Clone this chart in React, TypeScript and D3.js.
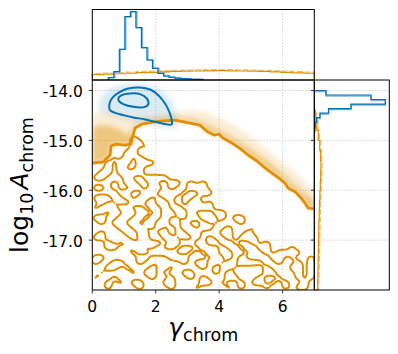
import React from 'react';
import * as d3 from 'd3';

const WIDTH = 398;
const HEIGHT = 354;
const BLUE = '#0173b2';
const ORANGE = '#de8f05';

const gammaTicks = [0, 2, 4, 6];
const logATicks = [-14, -15, -16, -17];

// marginal histograms (density, scaled to the panel)
const blueGammaStart = 0.505;
const blueGammaWidth = 0.174;
const blueGammaHist = [0.033, 0.118, 0.435, 0.898, 0.969, 0.742, 0.458, 0.284, 0.166, 0.095, 0.057, 0.038, 0.028, 0.021, 0.015, 0.011, 0.008];

const orangeGammaStart = 0;
const orangeGammaWidth = 0.35;
const orangeGammaHist = [0.075, 0.082, 0.089, 0.096, 0.104, 0.109, 0.115, 0.121, 0.125, 0.128, 0.130, 0.132, 0.130, 0.128, 0.125, 0.121, 0.115, 0.109, 0.102, 0.096];

const blueLogAStart = -14.0;
const blueLogAWidth = -0.0906;
const blueLogAHist = [0.158, 0.766, 0.96, 0.496, 0.193, 0.077, 0.031, 0.014, 0.007];

const orangeLogAStart = -18;
const orangeLogAWidth = 0.2;
const orangeLogAHist = [0.045, 0.049, 0.051, 0.054, 0.057, 0.059, 0.062, 0.066, 0.070, 0.076, 0.081, 0.086, 0.089, 0.084, 0.073, 0.054, 0.034, 0.014];

// blue 2d contours [gamma, log10 A]
const blueOuter = [
  [0.536, -14.36], [0.558, -14.228], [0.662, -14.128], [0.874, -14.028], [1.135, -13.96],
  [1.504, -13.94], [1.82, -13.98], [2.081, -14.094], [2.293, -14.26], [2.428, -14.428],
  [2.504, -14.594], [2.504, -14.68], [2.293, -14.674], [1.977, -14.628], [1.662, -14.58],
  [1.293, -14.54], [0.978, -14.494], [0.716, -14.448], [0.58, -14.408],
];
const blueInner = [
  [0.82, -14.16], [0.927, -14.094], [1.189, -14.06], [1.504, -14.074], [1.716, -14.16],
  [1.766, -14.274], [1.662, -14.328], [1.293, -14.328], [0.978, -14.274], [0.842, -14.214],
];
const blueCloud = [
  [0.18, -14.294], [0.306, -14.094], [0.558, -13.954], [1.031, -13.874], [1.662, -13.874],
  [2.071, -13.954], [2.397, -14.114], [2.617, -14.354], [2.712, -14.594], [2.65, -14.754],
  [2.293, -14.754], [1.82, -14.674], [1.189, -14.614], [0.621, -14.514], [0.243, -14.434],
];

// orange outer contour along the upper envelope
const orangeEdge = [
  [0.0, -15.454], [0.337, -15.434], [0.558, -15.294], [0.59, -15.114], [0.747, -15.074],
  [1.031, -15.094], [1.22, -15.074], [1.283, -14.894], [1.347, -14.754], [1.567, -14.674],
  [1.82, -14.644], [2.135, -14.614], [2.608, -14.594], [3.081, -14.654], [3.396, -14.694],
  [3.649, -14.834], [3.838, -14.894], [3.996, -14.874], [4.122, -14.954], [4.406, -15.054],
  [4.658, -15.16], [4.91, -15.294], [5.194, -15.414], [5.446, -15.554], [5.699, -15.674],
  [5.919, -15.774], [6.077, -15.86], [6.182, -15.96], [6.393, -16.028], [6.582, -16.154],
  [6.708, -16.26], [6.812, -16.36], [7.0, -16.374],
];
const orangeCloudTop = [
  [0.0, -14.494], [0.306, -14.394], [0.716, -14.434], [1.189, -14.534], [1.82, -14.514],
  [2.45, -14.454], [3.081, -14.394], [3.555, -14.434], [4.027, -14.554], [4.5, -14.714],
  [4.973, -14.914], [5.446, -15.154], [5.919, -15.394], [6.392, -15.634], [6.708, -15.834],
  [7.0, -16.034],
];
const orangeDenseTop = [
  [0.0, -14.754], [0.243, -14.694], [0.558, -14.714], [0.874, -14.794], [1.126, -14.894],
  [1.347, -14.674], [1.82, -14.574], [2.608, -14.534], [3.239, -14.574], [3.712, -14.714],
  [4.185, -14.854], [4.658, -15.034], [5.131, -15.234], [5.604, -15.454], [6.077, -15.714],
  [6.55, -15.994], [7.0, -16.194],
];

// orange 2d histogram below the envelope: 0.2 in gamma x 0.1 in log10 A, from -14.9 down
const noiseTop = -14.9;
const noiseRows = [
  '..... .x... ..... ..... ..... ..... .....',
  '..... .xx.. ..... ..... ..... ..... .....',
  '..... .x.o. ..... ..... ..... ..... .....',
  '..... xx... ..... ..... ..... ..... .....',
  '...o. x.x.. ..... ..... ..... ..... .....',
  '..x.x x.xxo ..... ..... ..... ..... .....',
  '..x.x ..x.. ..... ..... ..... ..... .....',
  '.xx.x xxx.. ..... ..... ..... ..... .....',
  'ox... x..xx xx... ..... ..... ..... .....',
  '...x. xx..x ..xx. x.x.. ..... ..... .....',
  'xx.x. .xo.x x.x.. xxx.. ..... ..... .....',
  '....x x..xx ....x ..xx. ..... ..... .....',
  'oxx.. x.xx. o..x. .x... ..... ..... .....',
  '.x.o. .xx.. xx.x. xx.o. ..... ..... .....',
  'x...x x..x. .x..o .xxx. ..... ..... .....',
  '..x.. xx..o .xx.. x...x x.... ..... .....',
  'xx..x x..x. .x.o. xx... x.xx. ..... .....',
  '.x.xx ..o.. xx..x ..x.o ...x. ..... .....',
  '....x x..o. x.x.x x.xx. .x... o.... .....',
  '.x... xx..x ..x.. xx... xx..x ..... .....',
  'xo... .x..x x..o. .x.x. .x.ox x.... .....',
  '..x.o ..o.. .x..x x..xx ..o.. x.o.. .....',
  'o.xx. o..o. x..x. .o... x..x. .xx.. .x...',
  '..... .x..x xxx.. x.x.. xx..o ..x.x x.x..',
  'xx... ..xx. ..xxx ...o. .x.x. ...xx .o..x',
  'x..xx ..x.. o...x .xx.. o..xx xo..x ..x.x',
  '..xx. x...x ..x.. ..x.x ..o.. ..x.. .xx.x',
  '.o... .x.xx .x..x x...x .x..x ..xx. ..x.x',
  'x..x. ....x ..o.. x.x.. .xx.. .x..o ..x.x',
  '..x.x .xx.. .xx.. ..xx. o..x. xx.x. x..x.',
  'x.x.. ..x.x ..x.x .x... .x.x. ..x.. x.xx.',
];
const noiseLevels: Record<string, number> = { '.': 1, o: 8.2, x: 9 };

const MAIN = { left: 92.3, right: 314.3, top: 80, bottom: 290 };
const TOP = { top: 9.5, bottom: 80 };
const RIGHT = { left: 314.3, right: 389.3 };

function stepPoints(start: number, width: number, vals: number[]) {
  const pts: [number, number][] = [[start, 0]];
  vals.forEach((v, i) => {
    pts.push([start + i * width, v]);
    pts.push([start + (i + 1) * width, v]);
  });
  pts.push([start + vals.length * width, 0]);
  return pts;
}

// bilinear resample of the coarse grid, then a light blur, for smoother contour lines
function resample(values: number[], w: number, h: number, k: number) {
  const fw = w * k;
  const fh = h * k;
  const out = new Float64Array(fw * fh);
  const at = (i: number, j: number) => values[Math.max(0, Math.min(h - 1, j)) * w + Math.max(0, Math.min(w - 1, i))];
  for (let fj = 0; fj < fh; fj++) {
    const v = (fj + 0.5) / k - 0.5;
    const j0 = Math.floor(v);
    const ty = v - j0;
    for (let fi = 0; fi < fw; fi++) {
      const u = (fi + 0.5) / k - 0.5;
      const i0 = Math.floor(u);
      const tx = u - i0;
      const a = at(i0, j0) * (1 - tx) + at(i0 + 1, j0) * tx;
      const b = at(i0, j0 + 1) * (1 - tx) + at(i0 + 1, j0 + 1) * tx;
      out[fj * fw + fi] = a * (1 - ty) + b * ty;
    }
  }
  d3.blur2({ data: out, width: fw, height: fh }, 1);
  return { data: Array.from(out), fw, fh };
}

export default function App() {
  const x = d3.scaleLinear().domain([0, 7]).range([MAIN.left, MAIN.right]);
  const y = d3.scaleLinear().domain([-18, -13.79]).range([MAIN.bottom, MAIN.top]);
  const yTop = d3.scaleLinear().domain([0, 1]).range([TOP.bottom, TOP.top]);
  const xRight = d3.scaleLinear().domain([0, 1.013]).range([RIGHT.left, RIGHT.right]);

  const xy = d3.line<number[]>().x(d => x(d[0])).y(d => y(d[1]));
  const closedSmooth = d3.line<number[]>().x(d => x(d[0])).y(d => y(d[1])).curve(d3.curveCatmullRomClosed);
  const topStep = d3.line<[number, number]>().x(d => x(d[0])).y(d => yTop(d[1]));
  const rightStep = d3.line<[number, number]>().x(d => xRight(d[1])).y(d => y(d[0]));

  const cloud = (top: number[][]) => xy([...top, ...orangeEdge.slice().reverse()]) + 'Z';

  // orange noise contours
  const rows = noiseRows.map(r => r.replace(/ /g, ''));
  const nx = rows[0].length;
  const ny = rows.length;
  const values = new Array((nx + 2) * (ny + 2)).fill(1);
  rows.forEach((r, j) => {
    for (let i = 0; i < nx; i++) values[(j + 1) * (nx + 2) + i + 1] = noiseLevels[r[i]] ?? 1;
  });
  const K = 3;
  const fine = resample(values, nx + 2, ny + 2, K);
  const noise = d3.contours().size([fine.fw, fine.fh]).thresholds([4.4])(fine.data);
  const proj = d3.geoTransform({
    point(px: number, py: number) {
      (this as any).stream.point(x((px / K - 1) * 0.2), y(noiseTop - (py / K - 1) * 0.1));
    },
  });
  const noisePath = d3.geoPath(proj);

  const mw = MAIN.right - MAIN.left;
  const mh = MAIN.bottom - MAIN.top;

  return (
    <svg width={WIDTH} height={HEIGHT} style={{ position: 'absolute', left: 0, top: 0, background: '#fff' }}
      fontFamily="DejaVu Sans">
      <defs>
        <clipPath id="main-clip"><rect x={MAIN.left} y={MAIN.top} width={mw} height={mh} /></clipPath>
        <filter id="haze" x="-20%" y="-20%" width="140%" height="140%">
          <feGaussianBlur stdDeviation="2.5" />
        </filter>
      </defs>
      <rect width={WIDTH} height={HEIGHT} fill="#fff" />

      {/* grids */}
      <g stroke="#c8c8c8" strokeWidth={0.8} strokeDasharray="1.5 1.5">
        {gammaTicks.slice(1).map(t => (
          <g key={t}>
            <line x1={x(t)} x2={x(t)} y1={TOP.top} y2={TOP.bottom} />
            <line x1={x(t)} x2={x(t)} y1={MAIN.top} y2={MAIN.bottom} />
          </g>
        ))}
        {logATicks.map(t => (
          <g key={t}>
            <line x1={MAIN.left} x2={MAIN.right} y1={y(t)} y2={y(t)} />
            <line x1={RIGHT.left} x2={RIGHT.right} y1={y(t)} y2={y(t)} />
          </g>
        ))}
      </g>

      {/* main panel */}
      <g clipPath="url(#main-clip)">
        <g filter="url(#haze)">
          <path d={xy(blueCloud) + 'Z'} fill={BLUE} fillOpacity={0.14} />
          <path d={cloud(orangeCloudTop)} fill={ORANGE} fillOpacity={0.16} />
          <path d={cloud(orangeDenseTop)} fill={ORANGE} fillOpacity={0.42} />
        </g>
        <g fill="none" stroke={ORANGE} strokeWidth={2} strokeLinejoin="round">
          {noise.map((c, i) => <path key={i} d={noisePath(c as any) || ''} />)}
        </g>
        <path d={xy(orangeEdge) || ''} fill="none" stroke={ORANGE} strokeWidth={2.8} strokeLinejoin="round" />
        <g fill="none" stroke={BLUE} strokeWidth={2}>
          <path d={closedSmooth(blueOuter) || ''} />
          <path d={closedSmooth(blueInner) || ''} />
        </g>
      </g>

      {/* top marginal */}
      <path d={topStep(stepPoints(orangeGammaStart, orangeGammaWidth, orangeGammaHist)) || ''}
        fill="none" stroke="#f0bd6a" strokeWidth={1.2} strokeDasharray="6 2" transform="translate(0,-1.2)" />
      <path d={topStep(stepPoints(orangeGammaStart, orangeGammaWidth, orangeGammaHist)) || ''}
        fill="none" stroke={ORANGE} strokeWidth={1.2} />
      <path d={topStep(stepPoints(blueGammaStart, blueGammaWidth, blueGammaHist)) || ''}
        fill="none" stroke="#7db4dc" strokeWidth={1.4} transform="translate(1,0)" />
      <path d={topStep(stepPoints(blueGammaStart, blueGammaWidth, blueGammaHist)) || ''}
        fill="none" stroke={BLUE} strokeWidth={1.2} />

      {/* right marginal */}
      <path d={rightStep(stepPoints(orangeLogAStart, orangeLogAWidth, orangeLogAHist)) || ''}
        fill="none" stroke="#f0bd6a" strokeWidth={1.2} strokeDasharray="6 2" transform="translate(1.2,0)" />
      <path d={rightStep(stepPoints(orangeLogAStart, orangeLogAWidth, orangeLogAHist)) || ''}
        fill="none" stroke={ORANGE} strokeWidth={1.2} />
      <path d={rightStep(stepPoints(blueLogAStart, blueLogAWidth, blueLogAHist)) || ''}
        fill="none" stroke="#7db4dc" strokeWidth={1.4} transform="translate(0,1)" />
      <path d={rightStep(stepPoints(blueLogAStart, blueLogAWidth, blueLogAHist)) || ''}
        fill="none" stroke={BLUE} strokeWidth={1.2} />

      {/* spines */}
      <g fill="none" stroke="#000" strokeWidth={1}>
        <rect x={MAIN.left} y={TOP.top} width={mw} height={TOP.bottom - TOP.top} />
        <rect x={MAIN.left} y={MAIN.top} width={mw} height={mh} />
        <rect x={RIGHT.left} y={MAIN.top} width={RIGHT.right - RIGHT.left} height={mh} />
      </g>

      {/* ticks */}
      <g stroke="#222" strokeWidth={0.9}>
        {gammaTicks.map(t => <line key={t} x1={x(t)} x2={x(t)} y1={MAIN.bottom} y2={MAIN.bottom + 3.5} />)}
        {logATicks.map(t => <line key={t} x1={MAIN.left - 3.5} x2={MAIN.left} y1={y(t)} y2={y(t)} />)}
        {logATicks.map(t => <line key={'r' + t} x1={RIGHT.left - 3.5} x2={RIGHT.left} y1={y(t)} y2={y(t)} />)}
      </g>
      <g fontSize={15.5} fill="#000">
        {gammaTicks.map(t => (
          <text key={t} x={x(t)} y={MAIN.bottom + 21.7} textAnchor="middle">{t}</text>
        ))}
        {logATicks.map(t => (
          <text key={t} x={MAIN.left - 9.5} y={y(t) + 7} textAnchor="end">{t.toFixed(1)}</text>
        ))}
      </g>

      {/* axis labels */}
      <text x={(MAIN.left + MAIN.right) / 2} y={336} textAnchor="middle" fontSize={25}>
        <tspan fontStyle="italic">γ</tspan>
        <tspan fontSize={17.5} dy={5}>chrom</tspan>
      </text>
      <text transform={`translate(27.5,${(MAIN.top + MAIN.bottom) / 2}) rotate(-90)`} textAnchor="middle" fontSize={25}>
        log<tspan fontSize={17.5} dy={5}>10</tspan>
        <tspan dx={3} dy={-5} fontStyle="italic">A</tspan>
        <tspan fontSize={17.5} dy={5}>chrom</tspan>
      </text>
    </svg>
  );
}
